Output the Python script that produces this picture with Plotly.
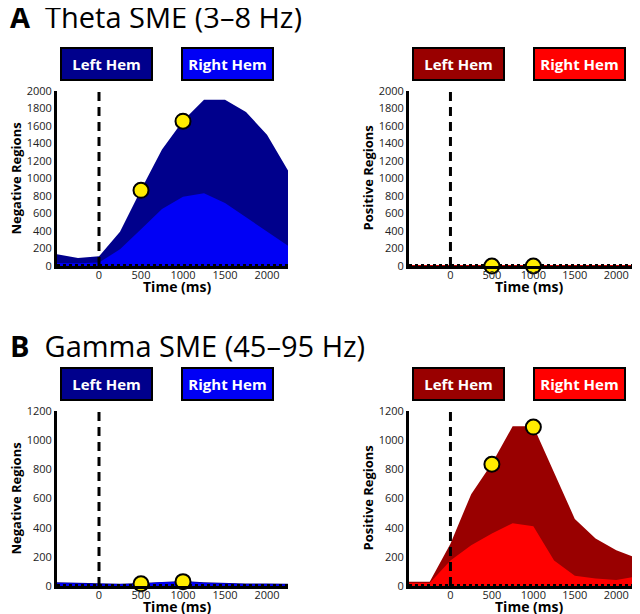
import plotly.graph_objects as go

# time points (ms)
time_ms = [-500, -250, 0, 250, 500, 750, 1000, 1250, 1500, 1750, 2000, 2250]

# Theta SME (3-8 Hz), negative regions
theta_neg_left = [135, 90, 110, 390, 870, 1330, 1660, 1900, 1900, 1760, 1500, 1090]
theta_neg_right = [35, 30, 40, 190, 420, 650, 790, 830, 720, 560, 390, 230]
# Theta SME, positive regions
theta_pos_left = [12, 12, 12, 12, 12, 12, 12, 12, 12, 12, 12, 12]
theta_pos_right = [6, 6, 6, 6, 6, 6, 6, 6, 6, 6, 6, 6]

# Gamma SME (45-95 Hz), negative regions
gamma_neg_left = [25, 20, 15, 15, 20, 30, 35, 25, 20, 18, 18, 15]
gamma_neg_right = [20, 15, 12, 12, 15, 25, 30, 20, 15, 12, 12, 10]
# Gamma SME, positive regions
gamma_pos_left = [30, 30, 290, 630, 840, 1095, 1095, 780, 460, 325, 245, 190]
gamma_pos_right = [20, 20, 175, 280, 360, 430, 410, 175, 70, 52, 42, 65]

# significant time points (yellow markers)
theta_neg_sig_t = [500, 1000]
theta_neg_sig_v = [865, 1655]
theta_pos_sig_t = [500, 1000]
theta_pos_sig_v = [0, 0]
gamma_neg_sig_t = [500, 1000]
gamma_neg_sig_v = [15, 30]
gamma_pos_sig_t = [500, 1000]
gamma_pos_sig_v = [835, 1090]

DARK_BLUE = '#00008c'
BLUE = '#0000f5'
DARK_RED = '#990000'
RED = '#ff0000'
YELLOW = '#ffec00'
FONT = 'Open Sans, sans-serif'
W, H = 640, 614
OFF = 8  # page body margin: the figure is drawn 8px in from the window corner


def px(x):
    return (x - OFF) / W


def py(y):
    return 1 - (y - OFF) / H


panels = [
    # (left, right, sig_t, sig_v, dark, bright, ymax, ytitle, x px, y px) in window pixels
    (theta_neg_left, theta_neg_right, theta_neg_sig_t, theta_neg_sig_v, DARK_BLUE, BLUE,
     2000, 'Negative Regions', (57, 288), (91, 266)),
    (theta_pos_left, theta_pos_right, theta_pos_sig_t, theta_pos_sig_v, DARK_RED, RED,
     2000, 'Positive Regions', (409, 637), (91, 266)),
    (gamma_neg_left, gamma_neg_right, gamma_neg_sig_t, gamma_neg_sig_v, DARK_BLUE, BLUE,
     1200, 'Negative Regions', (57, 288), (411, 586)),
    (gamma_pos_left, gamma_pos_right, gamma_pos_sig_t, gamma_pos_sig_v, DARK_RED, RED,
     1200, 'Positive Regions', (409, 637), (411, 586)),
]

fig = go.Figure()
layout = {}
annotations = []

for i, (left, right, sig_t, sig_v, dark, bright, ymax, ytitle, xpx, ypx) in enumerate(panels):
    n = i + 1
    xa = 'x' if n == 1 else f'x{n}'
    ya = 'y' if n == 1 else f'y{n}'
    xdom = [px(xpx[0]), px(xpx[1])]
    ydom = [py(ypx[1]), py(ypx[0])]

    fig.add_trace(go.Scatter(x=time_ms, y=left, xaxis=xa, yaxis=ya, mode='lines',
                             line=dict(width=0, color=dark), fill='tozeroy', fillcolor=dark,
                             showlegend=False))
    fig.add_trace(go.Scatter(x=time_ms, y=right, xaxis=xa, yaxis=ya, mode='lines',
                             line=dict(width=0, color=bright), fill='tozeroy', fillcolor=bright,
                             showlegend=False))
    # dotted zero line
    fig.add_trace(go.Scatter(x=[-500, 2250], y=[0, 0], xaxis=xa, yaxis=ya, mode='lines',
                             line=dict(color='black', width=4, dash='3px,3px'), showlegend=False))
    # stimulus onset
    fig.add_trace(go.Scatter(x=[0, 0], y=[0, ymax], xaxis=xa, yaxis=ya, mode='lines',
                             line=dict(color='black', width=3, dash='9px,6px'), showlegend=False))
    fig.add_trace(go.Scatter(x=sig_t, y=sig_v, xaxis=xa, yaxis=ya, mode='markers',
                             marker=dict(size=15, color=YELLOW, line=dict(color='black', width=2)),
                             showlegend=False, cliponaxis=False))

    layout['xaxis' if n == 1 else f'xaxis{n}'] = dict(
        domain=xdom, range=[-500, 2250], anchor=ya, tickvals=[0, 500, 1000, 1500, 2000],
        showgrid=False, zeroline=False, showline=True, linecolor='black', linewidth=3,
        ticks='', tickfont=dict(size=11, color='#222', family=FONT), automargin=False,
        ticklabelstandoff=-3,
    )
    layout['yaxis' if n == 1 else f'yaxis{n}'] = dict(
        domain=ydom, range=[0, ymax], anchor=xa, dtick=200,
        showgrid=False, zeroline=False, showline=True, linecolor='black', linewidth=3,
        ticks='', tickfont=dict(size=11, color='#222', family=FONT), automargin=False,
    )

    # axis titles
    annotations.append(dict(
        x=px(xpx[0] + 120), y=py(ypx[1] + 20),
        xref='paper', yref='paper', xanchor='center', yanchor='middle', showarrow=False,
        text='<b>Time (ms)</b>', font=dict(size=14, color='black', family=FONT),
    ))
    annotations.append(dict(
        x=px(xpx[0] - 42), y=py((ypx[0] + ypx[1]) / 2),
        xref='paper', yref='paper', xanchor='center', yanchor='middle', showarrow=False,
        text=f'<b>{ytitle}</b>', textangle=-90, font=dict(size=13, color='black', family=FONT),
    ))

    # hemisphere legend boxes
    for label, color, x0 in [('Left Hem', dark, xpx[0] + 3), ('Right Hem', bright, xpx[0] + 124)]:
        annotations.append(dict(
            x=px(x0), y=py(ypx[0] - 27), xref='paper', yref='paper', xanchor='left', yanchor='middle',
            text=f'<b>{label}</b>', showarrow=False, width=87, height=28,
            bgcolor=color, bordercolor='black', borderwidth=2,
            font=dict(size=15, color='white', family=FONT),
        ))

# panel titles
for letter, title, ypix in [('A', 'Theta SME (3–8 Hz)', 16), ('B', 'Gamma SME (45–95 Hz)', 345)]:
    annotations.append(dict(
        x=0, y=py(ypix), xref='paper', yref='paper', xanchor='left', yanchor='middle',
        text=f'<b>{letter}</b>  {title}', showarrow=False,
        font=dict(size=29, color='black', family=FONT),
    ))

fig.update_layout(
    width=W, height=H,
    margin=dict(l=0, r=0, t=0, b=0),
    plot_bgcolor='white', paper_bgcolor='white',
    annotations=annotations,
    **layout,
)

fig.write_html("out.html")
